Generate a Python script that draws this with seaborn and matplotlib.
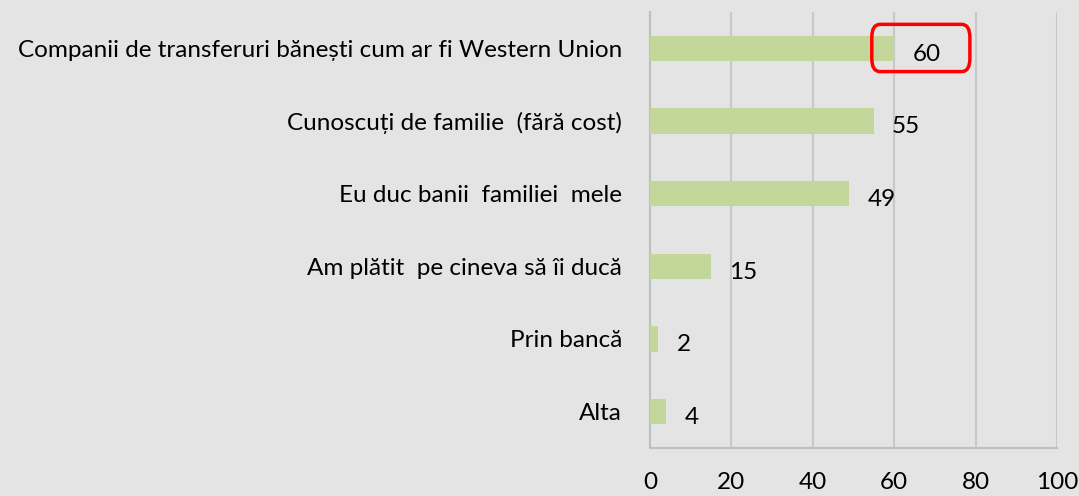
import numpy as np
import pandas as pd
import matplotlib.pyplot as plt
import seaborn as sns
from matplotlib.patches import FancyBboxPatch

categories = [
    "Companii de transferuri bănești cum ar fi Western Union",
    "Cunoscuți de familie  (fără cost)",
    "Eu duc banii  familiei  mele",
    "Am plătit  pe cineva să îi ducă",
    "Prin bancă",
    "Alta",
]
values = [60, 55, 49, 15, 2, 4]
xticks = [0, 20, 40, 60, 80, 100]

df = pd.DataFrame({"cat": categories, "val": values})

sns.set_style("white")
plt.rcParams["font.family"] = ["Lato", "DejaVu Sans"]

bg = "#e4e4e4"
fs = 17.5
fig = plt.figure(figsize=(10.79, 4.96), dpi=100, facecolor=bg)
ax = fig.add_axes([0.6024, 0.0968, 0.3772, 0.879], facecolor=bg)

sns.barplot(data=df, x="val", y="cat", orient="h", color="#c4d79b",
            saturation=1, width=0.35, linewidth=0, edgecolor="none",
            ax=ax, zorder=3)

ax.set_xlim(0, 100)
ax.set_ylim(len(categories) - 0.5, -0.5)
ax.set_xticks(xticks)
ax.set_xlabel("")
ax.set_ylabel("")
ax.xaxis.grid(True, color="#c8c8c8", linewidth=1.5, zorder=0)

for s in ["top", "right"]:
    ax.spines[s].set_visible(False)
for s in ["left", "bottom"]:
    ax.spines[s].set_color("#bfbfbf")
    ax.spines[s].set_linewidth(1.5)

ax.tick_params(axis="x", length=6, width=1.5, color="#bfbfbf", pad=11,
               labelsize=fs, labelcolor="black")
ax.tick_params(axis="y", which="major", length=0, pad=20, labelsize=fs,
               labelcolor="black")
ax.set_yticks(np.arange(-0.5, len(categories), 1), minor=True)
ax.tick_params(axis="y", which="minor", length=7, width=1.5, color="#bfbfbf")

for i, v in enumerate(values):
    ax.text(v + 4.5, i + 0.08, str(v), ha="left", va="center", fontsize=fs,
            color="black", zorder=5)

# red highlight around the top value label
top = values[0]
box = FancyBboxPatch((top - 5.5, -0.33), 24.1, 0.65,
                     boxstyle="round,pad=0,rounding_size=2.0",
                     mutation_aspect=0.09,
                     fill=False, edgecolor="red", linewidth=2.5, zorder=6,
                     clip_on=False)
ax.add_patch(box)

fig.savefig("out.png", dpi=100, facecolor=bg)
